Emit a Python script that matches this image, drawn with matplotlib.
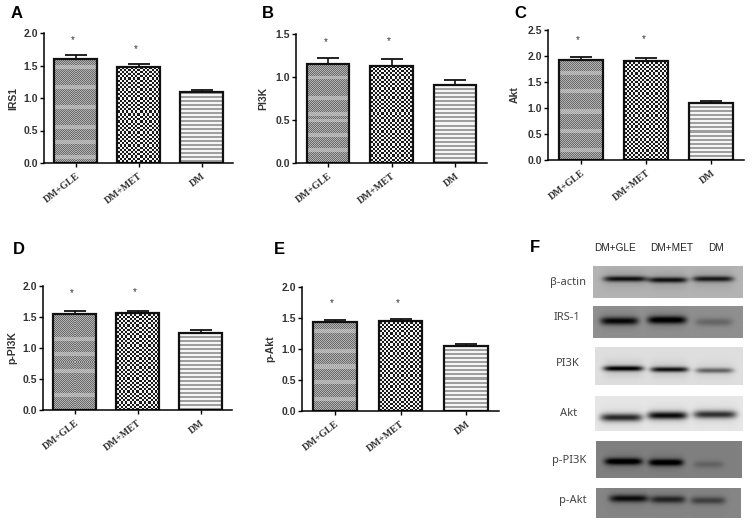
import matplotlib
matplotlib.use('Agg')
import matplotlib.pyplot as plt
import matplotlib.transforms as mtrans
import numpy as np

W, H = 753, 523

groups = ['DM+GLE', 'DM+MET', 'DM']
positions = [1, 2, 3]

irs1 = [1.60, 1.48, 1.09]
irs1_err = [0.06, 0.05, 0.03]
irs1_stars = [1.89, 1.76]
irs1_ticks = [0.0, 0.5, 1.0, 1.5, 2.0]
irs1_bands = [1.49, 1.18, 0.87, 0.56, 0.33, 0.10]

pi3k = [1.15, 1.13, 0.91]
pi3k_err = [0.07, 0.08, 0.05]
pi3k_stars = [1.41, 1.42]
pi3k_ticks = [0.0, 0.5, 1.0, 1.5]
pi3k_bands = [1.00, 0.76, 0.58, 0.50, 0.33, 0.16]

akt = [1.93, 1.90, 1.10]
akt_err = [0.06, 0.07, 0.04]
akt_stars = [2.31, 2.32]
akt_ticks = [0.0, 0.5, 1.0, 1.5, 2.0, 2.5]
akt_bands = [1.67, 1.31, 0.93, 0.56, 0.20]

ppi3k = [1.55, 1.56, 1.25]
ppi3k_err = [0.04, 0.04, 0.04]
ppi3k_stars = [1.89, 1.90]
ppi3k_ticks = [0.0, 0.5, 1.0, 1.5, 2.0]
ppi3k_bands = [1.13, 0.89, 0.64, 0.25]

pakt = [1.44, 1.45, 1.05]
pakt_err = [0.03, 0.04, 0.03]
pakt_stars = [1.74, 1.74]
pakt_ticks = [0.0, 0.5, 1.0, 1.5, 2.0]
pakt_bands = [1.28, 0.96, 0.72, 0.48, 0.20]

blot_names = ['β-actin', 'IRS-1', 'PI3K', 'Akt', 'p-PI3K', 'p-Akt']
blot_label_xy = [(568, 283), (567, 318), (568, 363), (569, 413), (569, 461), (573, 501)]
blot_box = [(593, 743, 266, 298), (593, 743, 306, 338), (595, 743, 347, 385),
            (595, 743, 396, 431), (596, 742, 441, 478), (596, 741, 488, 518)]
blot_bg = [0.70, 0.56, 0.87, 0.90, 0.50, 0.52]
blot_thick = [2.6, 3.6, 2.6, 3.8, 3.4, 3.6]
# band x start / end in px, band y in px, strength
blot_lanes = [
    [(603, 647, 279, 0.58), (648, 687, 280, 0.58), (692, 733, 279, 0.55)],
    [(600, 638, 321, 0.48), (647, 686, 320, 0.54), (695, 732, 322, 0.14)],
    [(603, 643, 368, 0.78), (650, 688, 369, 0.70), (695, 733, 370, 0.42)],
    [(600, 642, 417, 0.65), (647, 687, 415, 0.75), (693, 736, 414, 0.62)],
    [(604, 642, 461, 0.50), (648, 683, 462, 0.50), (693, 723, 464, 0.10)],
    [(609, 648, 498, 0.42), (650, 685, 499, 0.34), (690, 725, 500, 0.24)],
]

plt.rcParams['font.family'] = ['Liberation Sans', 'DejaVu Sans']


def px_axes(fig, left, right, top, bottom):
    return fig.add_axes([left / W, 1 - bottom / H, (right - left) / W, (bottom - top) / H])


def texture(kind, rows, cols, band_rows):
    yy, xx = np.indices((rows, cols))
    if kind == 0:
        img = np.where((yy + xx) % 2 == 0, 0.42, 0.70)
        for b in band_rows:
            img[np.abs(yy - b) < 2] = img[np.abs(yy - b) < 2] * 0.45 + 0.45
    elif kind == 1:
        img = np.where((np.floor(yy / 2.2) + np.floor(xx / 2.2)) % 2 == 0, 0.10, 0.95)
    else:
        img = np.where(yy % 4 < 2, 0.62, 0.96)
    return img


def bar_panel(fig, box, values, errs, stars, ticks, bands, name, label_x):
    left, right, top, bottom = box
    ax = px_axes(fig, left, right, top, bottom)
    ymax = ticks[-1]
    px_per_unit = (bottom - top) / ymax
    px_per_pos = (right - left) / 3.0
    width = 0.67
    for i, (p, v) in enumerate(zip(positions, values)):
        rows = int(round(v * px_per_unit))
        cols = int(round(width * px_per_pos))
        band_rows = [rows - b * px_per_unit for b in bands] if i == 0 else []
        ax.imshow(texture(i, rows, cols, band_rows), cmap='gray', vmin=0, vmax=1, aspect='auto',
                  extent=(p - width / 2, p + width / 2, 0, v), zorder=1, interpolation='nearest')
    ax.bar(positions, values, width=width, facecolor='none', edgecolor='#111111',
           linewidth=1.6, zorder=2)
    ax.errorbar(positions, values, yerr=[[0, 0, 0], errs], fmt='none', ecolor='#111111',
                elinewidth=1.2, capsize=8, capthick=1.3, zorder=3)
    for p, s in zip(positions, stars):
        ax.text(p - 0.04, s, '*', ha='center', va='center', fontsize=7, color='#333333')
    ax.set_xlim(0.5, 3.5)
    ax.set_ylim(0, ymax)
    ax.set_xticks(positions)
    ax.set_xticklabels(groups, rotation=38, ha='right', rotation_mode='anchor',
                       family=['Liberation Serif'], fontsize=7, fontweight='bold', color='#333333')
    shift = mtrans.ScaledTranslation(10 / 100, 0, fig.dpi_scale_trans)
    for lab in ax.get_xticklabels():
        lab.set_transform(lab.get_transform() + shift)
    ax.set_yticks(ticks)
    ax.set_yticklabels(['%.1f' % t for t in ticks], fontsize=7.5, fontweight='bold', color='#333333')
    ax.tick_params(axis='both', length=3, width=1.0, pad=1.5)
    ax.tick_params(axis='x', pad=3)
    ax.spines['top'].set_visible(False)
    ax.spines['right'].set_visible(False)
    ax.spines['left'].set_linewidth(1.1)
    ax.spines['bottom'].set_linewidth(1.1)
    ax.set_ylabel(name, fontsize=7.5, fontweight='bold', color='#333333')
    ax.yaxis.set_label_coords((label_x - left) / (right - left), 0.5)
    return ax


def blot(fig, box, bg, thick, lanes):
    left, right, top, bottom = box
    ax = px_axes(fig, left, right, top, bottom)
    yy, xx = np.indices((bottom - top, right - left))
    xx = xx + left
    yy = yy + top
    img = np.full(xx.shape, bg, dtype=float)
    for x0, x1, yc, strength in lanes:
        cx = (x0 + x1) / 2
        half = (x1 - x0) / 2
        across = np.exp(-((xx - cx) / half) ** 6)
        down = np.exp(-((yy - yc) / thick) ** 2)
        halo = np.exp(-((yy - yc) / 8.0) ** 2) * 0.15
        img = img - across * (down + halo) * strength
    ax.imshow(np.clip(img, 0, 1), cmap='gray', vmin=0, vmax=1, aspect='auto', interpolation='bilinear')
    ax.axis('off')


fig = plt.figure(figsize=(W / 100, H / 100), dpi=100)

bar_panel(fig, (44, 233, 33, 163), irs1, irs1_err, irs1_stars, irs1_ticks, irs1_bands, 'IRS1', 18)
bar_panel(fig, (296, 487, 34, 163), pi3k, pi3k_err, pi3k_stars, pi3k_ticks, pi3k_bands, 'PI3K', 268)
bar_panel(fig, (548, 744, 30, 160), akt, akt_err, akt_stars, akt_ticks, akt_bands, 'Akt', 520)
bar_panel(fig, (43, 232, 286, 410), ppi3k, ppi3k_err, ppi3k_stars, ppi3k_ticks, ppi3k_bands, 'p-PI3K', 17)
bar_panel(fig, (302, 499, 287, 411), pakt, pakt_err, pakt_stars, pakt_ticks, pakt_bands, 'p-Akt', 275)

for box, bg, thick, lanes in zip(blot_box, blot_bg, blot_thick, blot_lanes):
    blot(fig, box, bg, thick, lanes)

for name, (x, y) in zip(blot_names, blot_label_xy):
    fig.text(x / W, 1 - y / H, name, ha='center', va='center', fontsize=8, color='#444444',
             family=['Noto Sans', 'DejaVu Sans'])

for name, x in zip(groups, [615, 672, 716]):
    fig.text(x / W, 1 - 248 / H, name, ha='center', va='center', fontsize=7.2, color='#222222')

panel_letters = ['A', 'B', 'C', 'D', 'E', 'F']
letter_xy = [(17, 13), (268, 14), (520, 13), (19, 250), (279, 250), (535, 248)]
for letter, (x, y) in zip(panel_letters, letter_xy):
    fig.text(x / W, 1 - y / H, letter, ha='center', va='center', fontsize=12, fontweight='bold', color='black')

plt.savefig('out.png', dpi=100)
